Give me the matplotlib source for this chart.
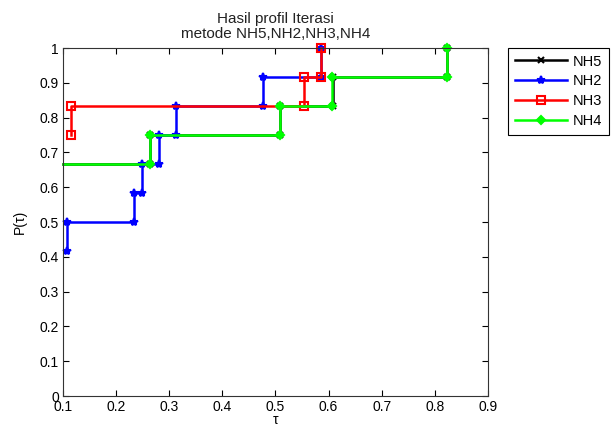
import numpy as np
import matplotlib
matplotlib.use('Agg')
import matplotlib.pyplot as plt

plt.rcParams['font.family'] = ['Liberation Sans', 'DejaVu Sans']

## step data: x position of each jump and the levels (before first jump, then after each)
nh5_x = [0.1, 0.264, 0.509, 0.608, 0.822]
nh5_lev = [8, 8, 9, 10, 11, 12]
nh2_x = [0.108, 0.234, 0.249, 0.281, 0.313, 0.476, 0.586]
nh2_lev = [5, 6, 7, 8, 9, 10, 11, 12]
nh3_x = [0.1145, 0.554, 0.586]
nh3_lev = [9, 10, 11, 12]
nh4_x = [0.1, 0.264, 0.509, 0.606, 0.823]
nh4_lev = [8, 8, 9, 10, 11, 12]
nprob = 12.0

def stairs(xs, lev):
    ##build vertices: vertical jump at every x
    px, py = [], []
    for i, x in enumerate(xs):
        px += [x, x]
        py += [lev[i] / nprob, lev[i + 1] / nprob]
    return np.array(px), np.array(py)

fs = 10
fig = plt.figure(figsize=(6.12, 4.25), dpi=100)
ax = fig.add_axes([63/612, 1-396/425, (488-63)/612, (396-48)/425])

series = [
    ('NH5', nh5_x, nh5_lev, 'k', 'x', 4, 'k'),
    ('NH2', nh2_x, nh2_lev, 'b', '*', 6, 'b'),
    ('NH3', nh3_x, nh3_lev, 'r', 's', 6, 'none'),
    ('NH4', nh4_x, nh4_lev, '#00ff00', 'D', 4, '#00ff00'),
]
for name, xs, lev, col, mk, ms, mfc in series:
    px, py = stairs(xs, lev)
    # first vertex of a series starting at the axis edge has no marker
    start = 2 if xs[0] <= 0.1 else 0
    ax.plot(px, py, '-', color=col, lw=1.8, marker=mk, ms=ms, mfc=mfc,
            mec=col, mew=1.5, markevery=list(range(start, len(px))),
            clip_on=False, label=name)

ax.set_xlim(0.1, 0.9)
ax.set_ylim(0, 1)
ax.set_xticks(np.arange(0.1, 0.91, 0.1))
ax.set_yticks(np.arange(0, 1.01, 0.1))
ax.set_xticklabels(['0.1', '0.2', '0.3', '0.4', '0.5', '0.6', '0.7', '0.8', '0.9'])
ax.set_yticklabels(['0', '0.1', '0.2', '0.3', '0.4', '0.5', '0.6', '0.7', '0.8', '0.9', '1'])
ax.tick_params(direction='in', top=True, right=True, length=4, labelsize=fs)
ax.tick_params(axis='x', pad=3)
ax.tick_params(axis='y', pad=3)
for s in ax.spines.values():
    s.set_color('#333333')
ax.set_title('Hasil profil Iterasi\nmetode NH5,NH2,NH3,NH4', fontsize=fs + 1,
             color='#222222', pad=7, linespacing=1.15)
ax.set_ylabel('P(τ)', fontsize=fs, labelpad=9)
ax.set_xlabel('τ', fontsize=fs, labelpad=-1)

leg = ax.legend(loc='upper left', bbox_to_anchor=(508/612, 1-48/425),
                bbox_transform=fig.transFigure, borderaxespad=0, fancybox=False,
                edgecolor='k', fontsize=fs + 0.5, handlelength=3.6, labelspacing=0.4,
                framealpha=1, borderpad=0.45, handletextpad=0.4)
leg.get_frame().set_linewidth(0.8)

fig.savefig('out.png', dpi=100)
